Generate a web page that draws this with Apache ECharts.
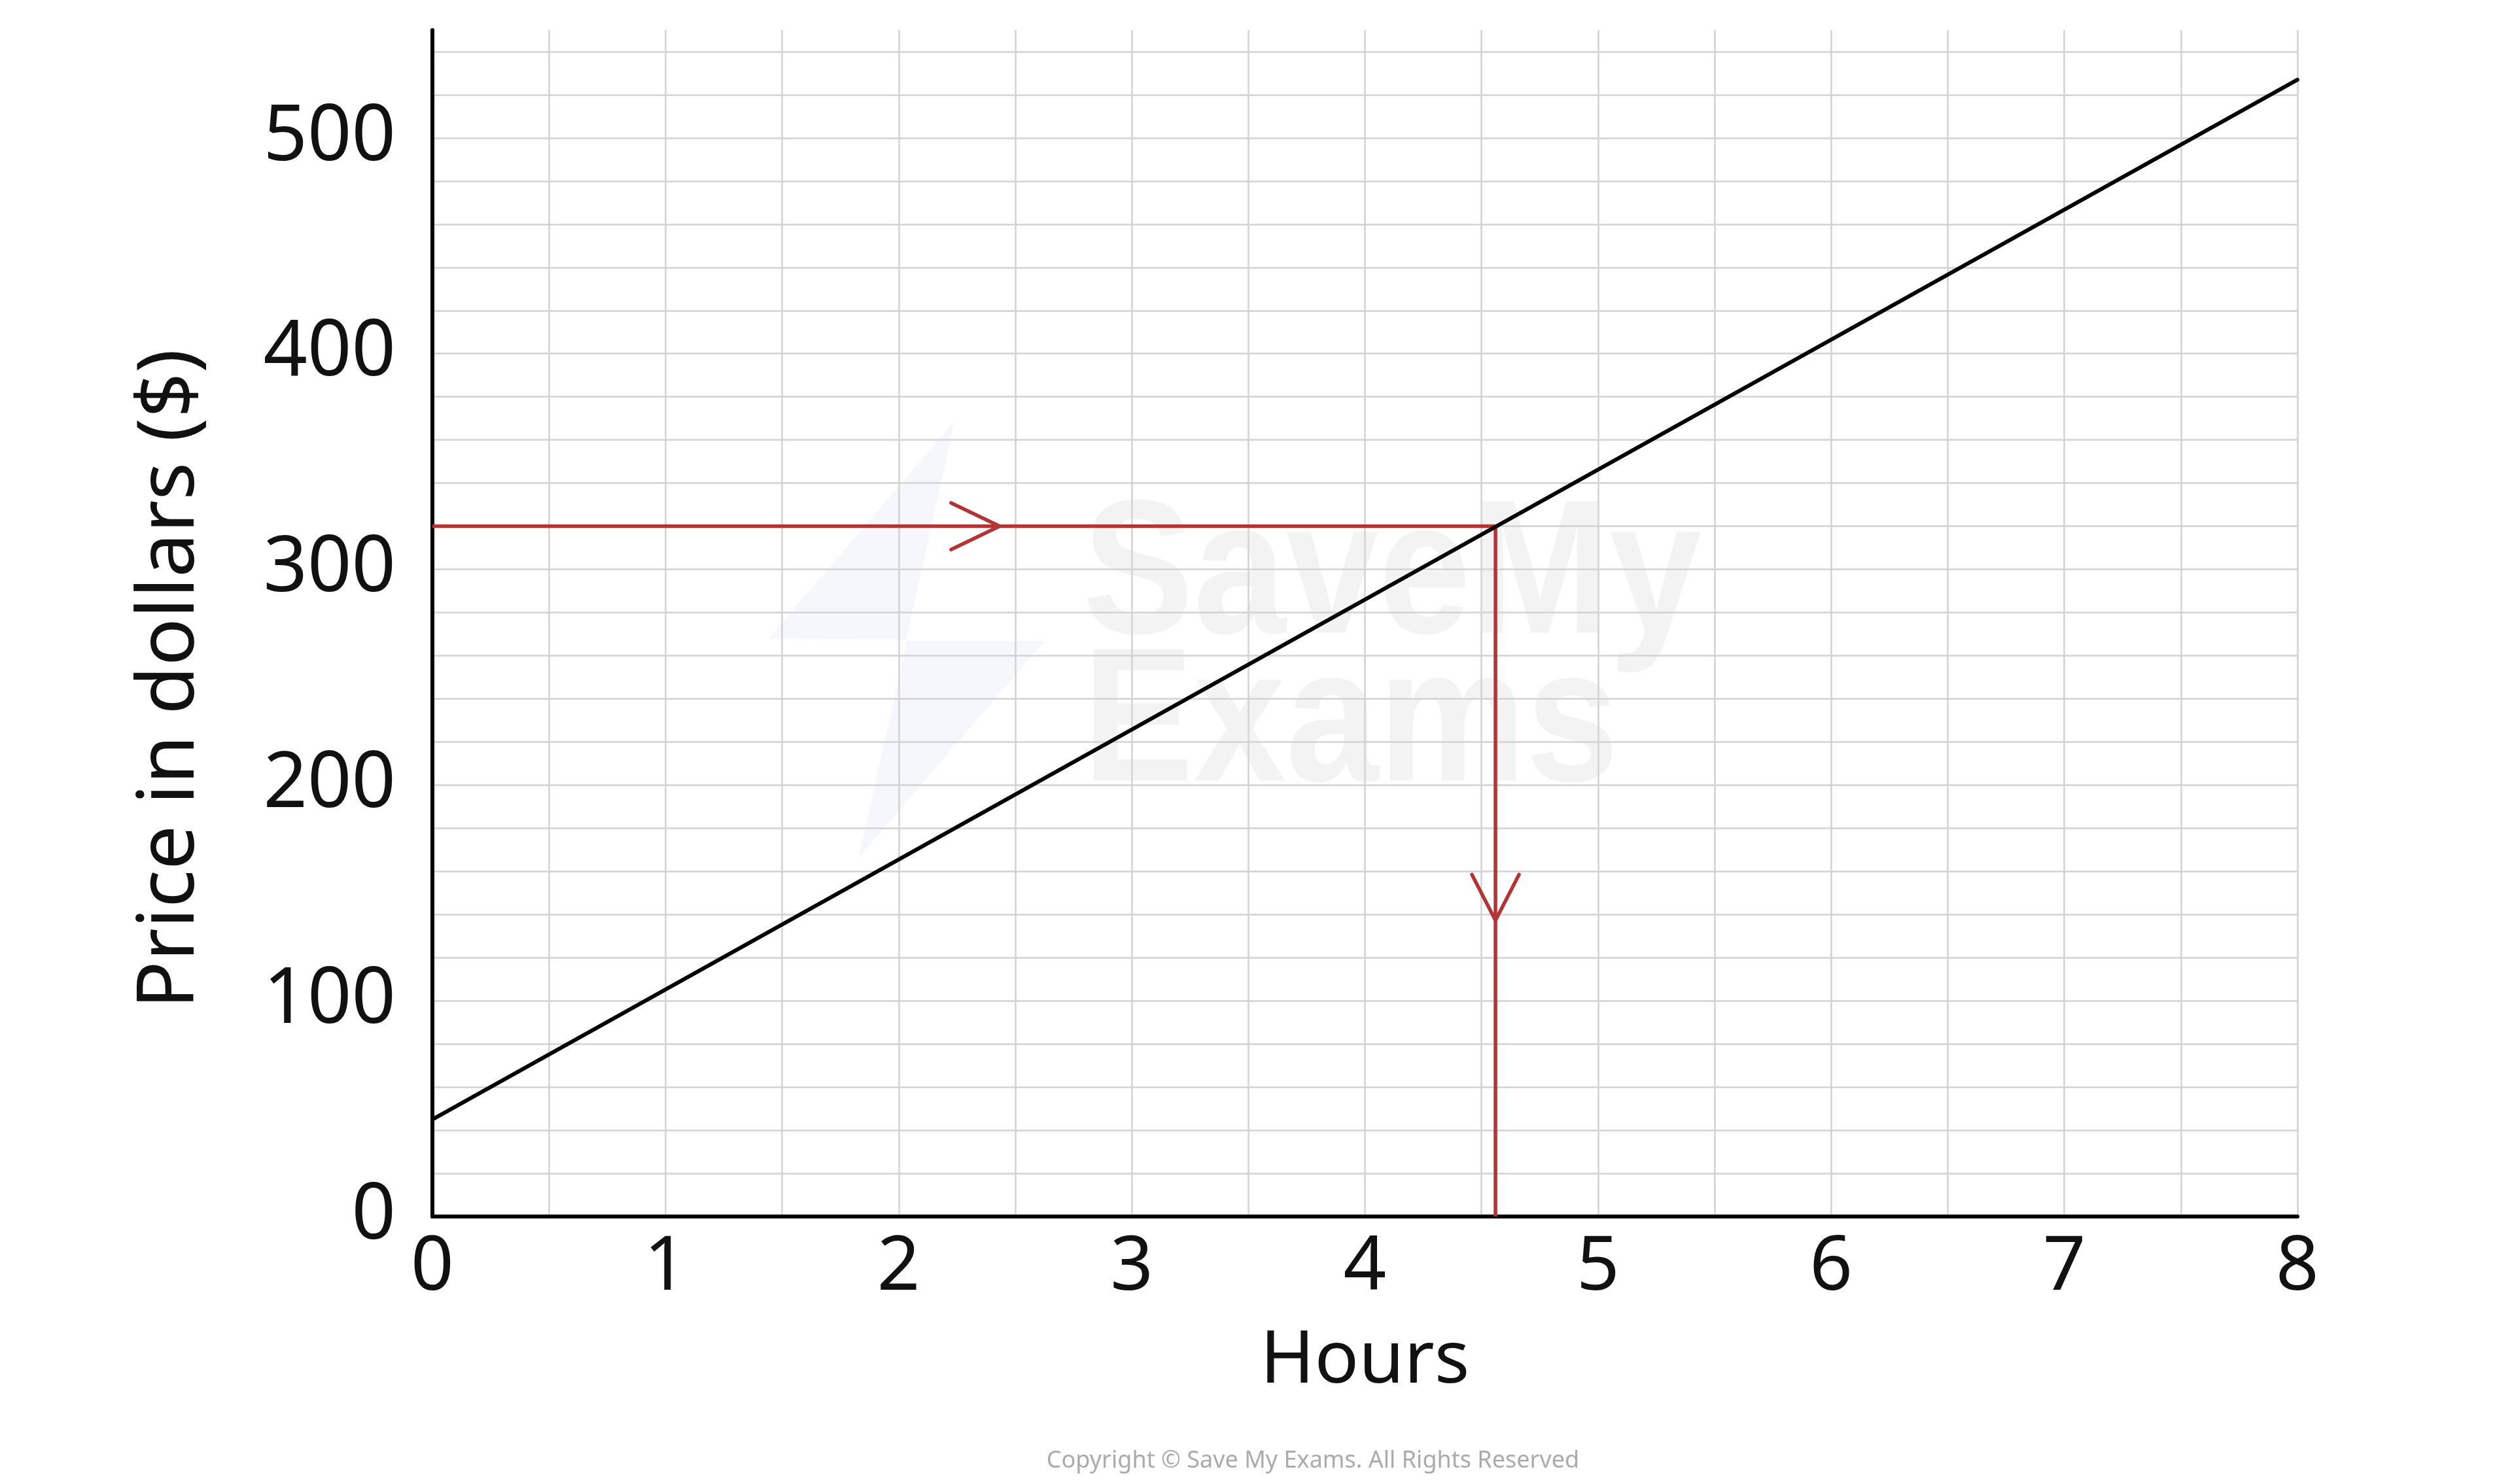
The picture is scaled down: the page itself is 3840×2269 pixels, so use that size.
<!DOCTYPE html>
<html>
<head>
<meta charset="utf-8">
<script src="https://cdn.jsdelivr.net/npm/echarts@6/dist/echarts.min.js"></script>
<style>
html,body{margin:0;padding:0;background:#fff;}
#chart{width:3840px;height:2269px;}
</style>
</head>
<body>
<div id="chart"></div>
<script>
// ---- data ----
const hours = [0, 8];
const price = [45, 527];
const readPrice = 320;
const readHours = 4.56;
const guideH = [[0, readPrice], [readHours, readPrice]];
const guideV = [[readHours, readPrice], [readHours, 0]];
const arrowRight = [[2.225, 330.8], [2.433, 320], [2.225, 309.2]];
const arrowDown = [[4.459, 158.5], [4.56, 137.3], [4.661, 158.5]];
const xTicks = [0, 1, 2, 3, 4, 5, 6, 7, 8];
const yTicks = [0, 100, 200, 300, 400, 500];
const xTitle = 'Hours';
const yTitle = 'Price in dollars ($)';
const copyright = 'Copyright © Save My Exams. All Rights Reserved';
const watermark = 'SaveMy\nExams';

const FONT = '"Noto Sans", "DejaVu Sans", sans-serif';
const RED = '#b23434';

const chart = echarts.init(document.getElementById('chart'), null, {renderer: 'canvas'});
chart.setOption({
  backgroundColor: '#ffffff',
  animation: false,
  grid: {left: 661, right: 328, top: 46, bottom: 409, containLabel: false},
  xAxis: {
    type: 'value', min: 0, max: 8, interval: 0.5,
    name: xTitle, nameLocation: 'middle', nameGap: 166,
    nameTextStyle: {fontFamily: FONT, fontSize: 112, color: '#111'},
    axisLine: {show: true, onZero: false, lineStyle: {color: '#000', width: 6}},
    axisTick: {show: false},
    axisLabel: {
      fontFamily: FONT, fontSize: 115, color: '#111', margin: 22,
      formatter: v => xTicks.includes(v) ? String(v) : ''
    },
    splitLine: {show: true, lineStyle: {color: '#d2d2d2', width: 2.5}}
  },
  yAxis: {
    type: 'value', min: 0, max: 550, interval: 20,
    axisLine: {show: true, onZero: false, lineStyle: {color: '#000', width: 6}},
    axisTick: {show: false},
    axisLabel: {
      fontFamily: FONT, fontSize: 118, color: '#111', margin: 56,
      formatter: v => yTicks.includes(v) ? String(v) : ''
    },
    splitLine: {show: true, showMaxLine: false, lineStyle: {color: '#d2d2d2', width: 2.5}}
  },
  graphic: [
    {
      type: 'text', x: 262, y: 1038, rotation: Math.PI / 2, z: 10,
      style: {text: yTitle, font: '121px ' + FONT, fill: '#111', align: 'center', verticalAlign: 'middle'}
    },
    {
      type: 'text', x: 2007, y: 2234, z: 10,
      style: {text: copyright, font: '36px ' + FONT, fill: '#ababab', align: 'center', verticalAlign: 'middle'}
    },
    {
      type: 'polygon', z: -10, silent: true,
      shape: {points: [[1459, 644], [1175, 976], [1385, 978]]},
      style: {fill: '#f5f7fd'}
    },
    {
      type: 'polygon', z: -10, silent: true,
      shape: {points: [[1387, 980], [1597, 980], [1312, 1312]]},
      style: {fill: '#f5f7fd'}
    },
    {
      type: 'text', x: 1655, y: 1000, z: -10, silent: true, scaleX: 0.87,
      style: {text: watermark, font: 'bold 292px "Liberation Sans", Arial, sans-serif', lineHeight: 226,
        fill: '#f3f3f3', align: 'left', verticalAlign: 'middle'}
    }
  ],
  series: [
    {
      type: 'line', name: 'Price', data: hours.map((h, i) => [h, price[i]]),
      symbol: 'none', lineStyle: {color: '#000', width: 6, cap: 'round'}, z: 5
    },
    {
      type: 'line', data: guideH, symbol: 'none',
      lineStyle: {color: RED, width: 5.5}, z: 4
    },
    {
      type: 'line', data: guideV, symbol: 'none',
      lineStyle: {color: RED, width: 5.5}, z: 4
    },
    {
      type: 'line', data: arrowRight, symbol: 'none',
      lineStyle: {color: RED, width: 5.5, cap: 'round', join: 'round'}, z: 4
    },
    {
      type: 'line', data: arrowDown, symbol: 'none',
      lineStyle: {color: RED, width: 5.5, cap: 'round', join: 'round'}, z: 4
    }
  ]
});
</script>
</body>
</html>
